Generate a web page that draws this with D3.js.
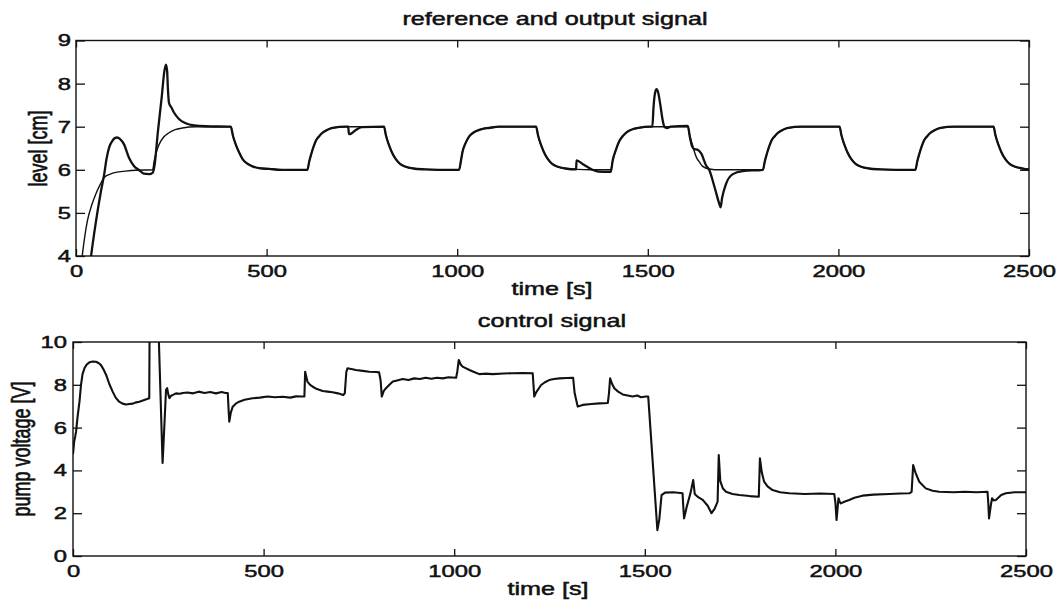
<!DOCTYPE html>
<html>
<head>
<meta charset="utf-8">
<script src="https://cdn.jsdelivr.net/npm/d3@7"></script>
<style>
  body { margin: 0; background: #fff; }
  text { font-family: "Liberation Sans", Arial, sans-serif; fill: #111; stroke: #111; stroke-width: 0.5px; }
</style>
</head>
<body>
<svg id="chart"></svg>
<script>
// time axis ticks (both panels)
const timeTicks = [0, 500, 1000, 1500, 2000, 2500];
const levelTicks = [4, 5, 6, 7, 8, 9];
const voltTicks = [0, 2, 4, 6, 8, 10];

// reference signal [time s, level cm]
const reference = [
  [0, 2.2], [8, 3.3], [17, 4.05], [30, 4.82], [42, 5.2], [52, 5.44], [63, 5.65], [74, 5.82], [90, 5.9],
  [104, 5.94], [130, 5.97], [157, 5.99], [201, 6.0],
  [205, 6.2], [211, 6.42], [218, 6.59], [230, 6.76], [244, 6.86], [260, 6.93], [279, 6.97], [314, 7.0], [406, 7.0],
  [412, 6.78], [419, 6.59], [428, 6.4], [437, 6.25], [450, 6.14], [463, 6.08], [480, 6.04], [507, 6.02], [540, 6.0], [607, 6.0],
  [612, 6.2], [617, 6.36], [623, 6.53], [629, 6.67], [638, 6.78], [647, 6.86], [660, 6.93], [673, 6.97], [708, 7.0], [808, 7.0],
  [813, 6.8], [820, 6.6], [828, 6.42], [838, 6.26], [850, 6.14], [865, 6.07], [885, 6.03], [915, 6.01], [950, 6.0], [1005, 6.0],
  [1010, 6.22], [1014, 6.42], [1021, 6.6], [1032, 6.78], [1042, 6.86], [1053, 6.91], [1067, 6.95], [1083, 6.97], [1110, 7.0], [1207, 7.0],
  [1212, 6.8], [1219, 6.6], [1227, 6.42], [1237, 6.26], [1249, 6.14], [1264, 6.07], [1284, 6.03], [1314, 6.01], [1350, 6.0], [1403, 6.0],
  [1408, 6.22], [1417, 6.48], [1425, 6.66], [1434, 6.78], [1446, 6.88], [1460, 6.94], [1475, 6.97], [1505, 7.0], [1605, 7.0],
  [1610, 6.8], [1617, 6.58], [1627, 6.3], [1636, 6.17], [1644, 6.08], [1661, 6.02], [1690, 6.0], [1802, 6.0],
  [1807, 6.2], [1812, 6.36], [1818, 6.53], [1824, 6.67], [1833, 6.78], [1842, 6.86], [1855, 6.93], [1868, 6.97], [1903, 7.0], [2003, 7.0],
  [2008, 6.8], [2015, 6.6], [2023, 6.42], [2033, 6.26], [2045, 6.14], [2060, 6.07], [2080, 6.03], [2110, 6.01], [2150, 6.0], [2202, 6.0],
  [2207, 6.2], [2212, 6.36], [2218, 6.53], [2224, 6.67], [2233, 6.78], [2242, 6.86], [2255, 6.93], [2268, 6.97], [2303, 7.0], [2407, 7.0],
  [2412, 6.8], [2419, 6.6], [2427, 6.42], [2437, 6.26], [2449, 6.14], [2464, 6.07], [2484, 6.03], [2500, 6.01]
];

// measured output level [time s, level cm]
const output = [
  [25, 2.8], [39, 3.96], [52, 4.78], [65, 5.48], [74, 5.9], [80, 6.25], [87, 6.52], [96, 6.68], [103, 6.74],
  [108, 6.75], [115, 6.72], [126, 6.59], [139, 6.28], [152, 6.09], [166, 5.99], [178, 5.91], [192, 5.9], [201, 5.93],
  [206, 6.1], [215, 6.9], [225, 7.7], [232, 8.3], [236, 8.44], [239, 8.3], [241, 7.9], [244, 7.55], [250, 7.45],
  [257, 7.33], [270, 7.18], [288, 7.08], [310, 7.03], [340, 7.01], [406, 7.0],
  [412, 6.78], [419, 6.59], [428, 6.4], [437, 6.25], [450, 6.14], [463, 6.08], [480, 6.04], [507, 6.02], [540, 6.0], [607, 6.0],
  [612, 6.2], [617, 6.36], [623, 6.53], [629, 6.67], [638, 6.78], [647, 6.86], [660, 6.93], [673, 6.97], [708, 7.0],
  [714, 7.0], [716, 6.83], [722, 6.84], [735, 6.93], [750, 6.99], [808, 7.0],
  [813, 6.8], [820, 6.6], [828, 6.42], [838, 6.26], [850, 6.14], [865, 6.07], [885, 6.03], [915, 6.01], [950, 6.0], [1005, 6.0],
  [1010, 6.22], [1014, 6.42], [1021, 6.6], [1032, 6.78], [1042, 6.86], [1053, 6.91], [1067, 6.95], [1083, 6.97], [1110, 7.0], [1207, 7.0],
  [1212, 6.8], [1219, 6.6], [1227, 6.42], [1237, 6.26], [1249, 6.14], [1264, 6.07], [1284, 6.03], [1312, 6.01],
  [1313, 6.22], [1330, 6.13], [1345, 6.05], [1358, 5.99], [1370, 5.96], [1400, 5.95], [1403, 5.96],
  [1408, 6.22], [1417, 6.48], [1425, 6.66], [1434, 6.78], [1446, 6.88], [1460, 6.94], [1475, 6.97], [1505, 7.0], [1512, 7.0],
  [1515, 7.45], [1519, 7.78], [1523, 7.87], [1527, 7.8], [1533, 7.5], [1539, 7.15], [1544, 6.99], [1550, 6.97], [1560, 7.0], [1605, 7.02],
  [1610, 6.78], [1616, 6.55], [1622, 6.48], [1630, 6.47], [1640, 6.38], [1653, 6.1], [1661, 6.0], [1675, 5.6], [1688, 5.2],
  [1691, 5.13], [1695, 5.35], [1705, 5.67], [1723, 5.9], [1749, 5.97], [1802, 6.0],
  [1807, 6.2], [1812, 6.36], [1818, 6.53], [1824, 6.67], [1833, 6.78], [1842, 6.86], [1855, 6.93], [1868, 6.97], [1903, 7.0], [2003, 7.0],
  [2008, 6.8], [2015, 6.6], [2023, 6.42], [2033, 6.26], [2045, 6.14], [2060, 6.07], [2080, 6.03], [2110, 6.01], [2150, 6.0], [2202, 6.0],
  [2207, 6.2], [2212, 6.36], [2218, 6.53], [2224, 6.67], [2233, 6.78], [2242, 6.86], [2255, 6.93], [2268, 6.97], [2303, 7.0], [2407, 7.0],
  [2412, 6.8], [2419, 6.6], [2427, 6.42], [2437, 6.26], [2449, 6.14], [2464, 6.07], [2484, 6.03], [2500, 6.01]
];

// control signal [time s, pump voltage V]
const control = [
  [0, 4.75], [3, 5.34], [6, 5.6], [8, 5.81], [12, 6.5], [17, 7.21], [21, 8.0], [25, 8.5], [30, 8.77], [36, 8.95],
  [43, 9.05], [52, 9.09], [60, 9.08], [67, 9.02], [73, 8.93], [80, 8.72], [87, 8.46], [95, 8.05], [104, 7.68],
  [112, 7.4], [121, 7.21], [130, 7.12], [139, 7.08], [148, 7.1], [157, 7.12], [166, 7.18], [174, 7.21], [185, 7.28], [200, 7.37],
  [201, 10.8], [224, 10.8], [235, 4.35], [240, 6.2], [244, 7.76], [247, 7.84], [250, 7.55], [253, 7.38], [257, 7.48],
  [261, 7.52], [270, 7.6], [280, 7.58], [288, 7.62], [300, 7.64], [315, 7.6], [330, 7.68], [345, 7.62], [360, 7.66],
  [375, 7.6], [390, 7.66], [400, 7.62], [406, 7.62], [408, 6.9], [410, 6.28], [414, 6.7], [419, 6.98], [427, 7.12],
  [436, 7.21], [450, 7.3], [471, 7.37], [490, 7.4], [510, 7.45], [530, 7.42], [550, 7.44], [570, 7.4], [585, 7.46],
  [600, 7.45], [607, 7.45], [609, 8.61], [615, 8.15], [622, 8.0], [629, 7.91], [640, 7.8], [655, 7.71], [668, 7.68],
  [681, 7.65], [695, 7.6], [703, 7.56], [709, 7.52], [713, 7.6], [717, 8.6], [720, 8.77], [730, 8.74], [742, 8.69],
  [760, 8.65], [777, 8.61], [795, 8.6], [803, 8.58], [807, 8.2], [810, 7.45], [815, 7.7], [821, 7.84], [830, 8.0],
  [839, 8.15], [850, 8.2], [865, 8.27], [880, 8.22], [895, 8.3], [910, 8.27], [925, 8.33], [940, 8.28], [955, 8.33],
  [970, 8.3], [985, 8.35], [1005, 8.33], [1008, 8.6], [1012, 9.16], [1017, 8.95], [1022, 8.85], [1030, 8.78], [1040, 8.69],
  [1052, 8.6], [1066, 8.5], [1080, 8.52], [1101, 8.5], [1130, 8.53], [1153, 8.54], [1180, 8.55], [1206, 8.54],
  [1210, 7.45], [1215, 7.65], [1228, 7.99], [1238, 8.12], [1249, 8.22], [1262, 8.27], [1276, 8.3], [1295, 8.32], [1312, 8.33],
  [1316, 7.6], [1324, 6.98], [1337, 7.06], [1360, 7.1], [1381, 7.13], [1403, 7.15], [1406, 7.6], [1409, 8.3], [1414, 8.05],
  [1420, 7.84], [1430, 7.68], [1442, 7.55], [1455, 7.5], [1468, 7.45], [1480, 7.5], [1490, 7.42], [1503, 7.45], [1509, 7.45],
  [1533, 1.21], [1538, 1.7], [1544, 2.85], [1553, 2.96], [1575, 2.98], [1599, 2.93], [1601, 2.3], [1603, 1.76], [1610, 2.3],
  [1620, 2.95], [1627, 3.55], [1631, 2.9], [1640, 2.75], [1652, 2.62], [1665, 2.35], [1675, 2.0], [1683, 2.2], [1691, 2.54],
  [1694, 4.72], [1698, 3.5], [1705, 3.15], [1713, 3.0], [1730, 2.9], [1748, 2.85], [1775, 2.8], [1799, 2.77],
  [1802, 4.56], [1807, 3.9], [1813, 3.47], [1822, 3.25], [1835, 3.08], [1855, 2.98], [1879, 2.93], [1920, 2.9], [1960, 2.92],
  [1997, 2.9], [2000, 2.5], [2003, 1.68], [2008, 2.7], [2011, 2.55], [2014, 2.46], [2025, 2.55], [2036, 2.62], [2050, 2.72],
  [2071, 2.82], [2100, 2.87], [2141, 2.9], [2170, 2.92], [2194, 2.93], [2200, 3.0], [2204, 4.25], [2210, 3.9], [2220, 3.47],
  [2237, 3.16], [2255, 3.05], [2272, 3.0], [2310, 2.98], [2340, 3.0], [2370, 2.98], [2399, 3.0], [2401, 2.5], [2403, 1.76],
  [2408, 2.4], [2411, 2.7], [2415, 2.6], [2421, 2.62], [2435, 2.85], [2447, 2.93], [2470, 2.98], [2500, 2.98]
];

const width = 1059, height = 601;
const stretch = 1.4;   // the scanned figure is wide, so text is stretched horizontally

const svg = d3.select("#chart")
    .attr("width", width)
    .attr("height", height);

svg.append("rect").attr("width", width).attr("height", height).attr("fill", "#fff");

// put a horizontally stretched label at (x, y)
function label(str, x, y, size, vertical) {
    svg.append("text")
        .attr("transform", `translate(${x},${y}) scale(${stretch},1)` + (vertical ? " rotate(-90)" : ""))
        .attr("text-anchor", "middle")
        .style("font-size", size + "px")
        .text(str);
}

function panel(opts) {
    const x = d3.scaleLinear().domain([0, 2500]).range([opts.left, opts.right]);
    const y = d3.scaleLinear().domain(opts.yDomain).range([opts.bottom, opts.top]);
    const g = svg.append("g");

    const clipId = "clip-" + opts.id;
    svg.append("clipPath").attr("id", clipId)
      .append("rect")
        .attr("x", opts.left).attr("y", opts.top)
        .attr("width", opts.right - opts.left).attr("height", opts.bottom - opts.top);

    // inward ticks on all four sides
    const xb = g.append("g").attr("transform", `translate(0,${opts.bottom})`)
        .call(d3.axisBottom(x).tickValues(timeTicks).tickFormat(d3.format("d"))
            .tickSize(-7).tickSizeOuter(0).tickPadding(9));
    g.append("g").attr("transform", `translate(0,${opts.top})`)
        .call(d3.axisTop(x).tickValues(timeTicks).tickSize(-7).tickSizeOuter(0).tickFormat(""));
    const yl = g.append("g").attr("transform", `translate(${opts.left},0)`)
        .call(d3.axisLeft(y).tickValues(opts.yTicks).tickFormat(d3.format("d"))
            .tickSize(-9).tickSizeOuter(0));
    g.append("g").attr("transform", `translate(${opts.right},0)`)
        .call(d3.axisRight(y).tickValues(opts.yTicks).tickSize(-9).tickSizeOuter(0).tickFormat(""));

    g.selectAll(".domain").remove();
    g.selectAll(".tick line").attr("stroke", "#111").attr("stroke-width", 1.3);
    g.selectAll(".tick text").attr("fill", "#111").style("font-size", "17px")
        .style("font-family", "'Liberation Sans', Arial, sans-serif");
    xb.selectAll(".tick text").attr("transform", `scale(${stretch},1)`);
    yl.selectAll(".tick text").attr("transform", `scale(${stretch},1)`).attr("x", -opts.yGap / stretch);

    g.append("rect")
        .attr("x", opts.left).attr("y", opts.top)
        .attr("width", opts.right - opts.left).attr("height", opts.bottom - opts.top)
        .attr("fill", "none").attr("stroke", "#111").attr("stroke-width", 1.4);

    return {x, y, clip: `url(#${clipId})`};
}

// top panel: reference and output
const levelPanel = panel({id: "level", left: 76, right: 1029, top: 40.5, bottom: 256,
    yDomain: [4, 9], yTicks: levelTicks, yGap: 5});

const levelLine = d3.line()
    .x(d => levelPanel.x(d[0]))
    .y(d => levelPanel.y(d[1]))
    .curve(d3.curveMonotoneX);

svg.append("path").datum(reference)
    .attr("clip-path", levelPanel.clip)
    .attr("fill", "none").attr("stroke", "#111").attr("stroke-width", 1.4)
    .attr("d", levelLine);

svg.append("path").datum(output)
    .attr("clip-path", levelPanel.clip)
    .attr("fill", "none").attr("stroke", "#111").attr("stroke-width", 2.3)
    .attr("stroke-linejoin", "round")
    .attr("d", levelLine);

label("reference and output signal", 555, 25, 18);
label("time [s]", 552, 294.5, 18);
label("level [cm]", 47, 148.5, 18, true);

// bottom panel: control signal
const voltPanel = panel({id: "volt", left: 73, right: 1026, top: 342, bottom: 556,
    yDomain: [0, 10], yTicks: voltTicks, yGap: 6});

const voltLine = d3.line()
    .x(d => voltPanel.x(d[0]))
    .y(d => voltPanel.y(d[1]));

svg.append("path").datum(control)
    .attr("clip-path", voltPanel.clip)
    .attr("fill", "none").attr("stroke", "#111").attr("stroke-width", 2.1)
    .attr("stroke-linejoin", "round")
    .attr("d", voltLine);

label("control signal", 552, 327, 18);
label("time [s]", 548, 594.5, 18);
label("pump voltage [V]", 30, 449, 18, true);
</script>
</body>
</html>
